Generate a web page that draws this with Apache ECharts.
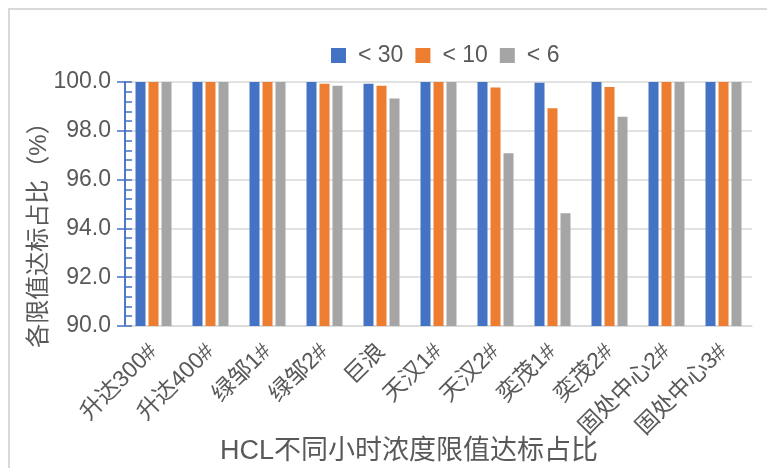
<!DOCTYPE html>
<html>
<head>
<meta charset="utf-8">
<script src="https://cdn.jsdelivr.net/npm/echarts@6/dist/echarts.min.js"></script>
<style>
html,body{margin:0;padding:0;background:#fff;overflow:hidden;}
#frame{position:absolute;left:8px;top:8px;width:820px;height:520px;border:2px solid #D9D9D9;box-sizing:border-box;}
#chart{position:absolute;left:0;top:0;width:767px;height:468px;}
</style>
</head>
<body>
<div id="frame"></div>
<div id="chart"></div>
<script>
const categories = ['升达300#','升达400#','绿邹1#','绿邹2#','巨浪','天汉1#','天汉2#','奕茂1#','奕茂2#','固处中心2#','固处中心3#'];
const seriesNames = ['< 30','< 10','< 6'];
const lt30 = [100, 100, 100, 100, 99.93, 100, 100, 99.97, 100, 100, 100];
const lt10 = [100, 100, 100, 99.93, 99.85, 100, 99.77, 98.92, 99.80, 100, 100];
const lt6  = [100, 100, 100, 99.85, 99.32, 100, 97.08, 94.62, 98.58, 100, 100];
const colors = ['#4472C4','#ED7D31','#A5A5A5'];
const yTitle = '各限值达标占比（%）';
const xTitle = 'HCL不同小时浓度限值达标占比';

const FONT = '"Liberation Sans", "Noto Sans CJK SC", sans-serif';
const chart = echarts.init(document.getElementById('chart'));
const baseY = {
  type: 'value', min: 90, max: 100, interval: 2, position: 'left'
};
chart.setOption({
  animation: false,
  backgroundColor: 'transparent',
  color: colors,
  textStyle: { fontFamily: FONT },
  title: {
    text: xTitle, left: 215, top: 433,
    textStyle: { fontSize: 27, fontWeight: 'normal', color: '#595959', fontFamily: FONT }
  },
  graphic: [{
    type: 'text', x: 39, y: 229, rotation: Math.PI / 2,
    style: { text: yTitle, fontSize: 24, fill: '#595959', fontFamily: FONT, align: 'center', verticalAlign: 'middle' }
  }],
  legend: {
    data: seriesNames, left: 326, top: 39, itemWidth: 15, itemHeight: 15, itemGap: 12,
    icon: 'rect',
    textStyle: { fontSize: 23, color: '#595959', fontFamily: FONT, padding: [0,0,0,7] }
  },
  grid: { left: 125, right: 15, top: 82, bottom: 142, containLabel: false },
  xAxis: {
    type: 'category', data: categories,
    axisLine: { lineStyle: { color: '#D9D9D9', width: 1.5 } },
    axisTick: { show: false },
    axisLabel: { interval: 0, rotate: 45, fontSize: 23, color: '#595959', margin: 22, fontFamily: FONT }
  },
  yAxis: [
    Object.assign({}, baseY, {
      axisLine: { show: true, lineStyle: { color: '#4472C4', width: 1.5 } },
      axisTick: { show: true, length: 8, lineStyle: { color: '#4472C4', width: 1.5 } },
      axisLabel: { fontSize: 23, color: '#595959', margin: 14, fontFamily: FONT, formatter: v => v.toFixed(1) },
      splitLine: { show: true, lineStyle: { color: '#D9D9D9', width: 1.5 } }
    }),
    Object.assign({}, baseY, {
      offset: 0,
      axisLine: { show: true, lineStyle: { color: '#4472C4', width: 1.5 } },
      axisTick: { show: true, inside: true, length: 7, lineStyle: { color: '#4472C4', width: 1.5 } },
      minorTick: { show: true, splitNumber: 5, length: 7, lineStyle: { color: '#4472C4', width: 1.5 } },
      axisLabel: { show: false },
      splitLine: { show: false }
    })
  ],
  series: [
    { name: seriesNames[0], type: 'bar', data: lt30, barWidth: 10, barGap: '30%', yAxisIndex: 0 },
    { name: seriesNames[1], type: 'bar', data: lt10, barWidth: 10, barGap: '30%', yAxisIndex: 0 },
    { name: seriesNames[2], type: 'bar', data: lt6,  barWidth: 10, barGap: '30%', yAxisIndex: 0 }
  ]
});
</script>
</body>
</html>
